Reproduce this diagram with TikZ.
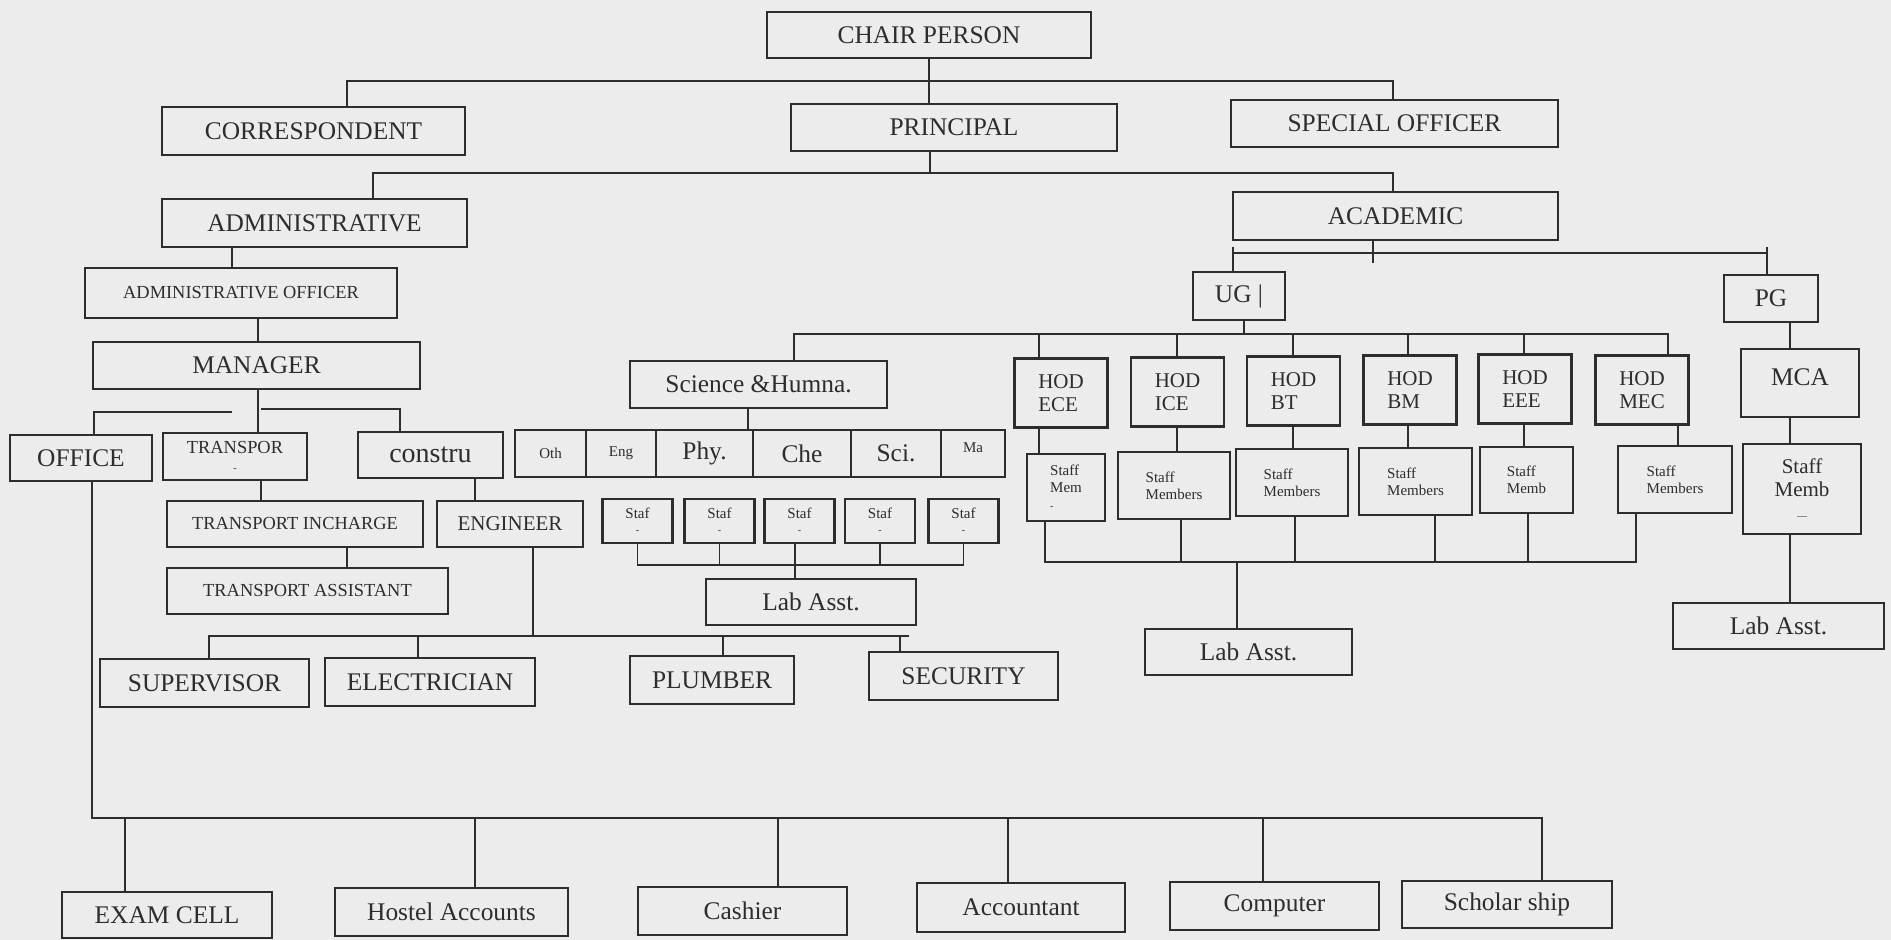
\documentclass[tikz,border=0pt]{standalone}
\usepackage{fontspec}
\setmainfont{Liberation Serif}
\usepackage{tikz}

\definecolor{paper}{RGB}{236,236,236}
\definecolor{ink}{RGB}{45,45,45}
\newcommand{\fbig}{\fontsize{12.7}{14}\selectfont}
\newcommand{\fmid}{\fontsize{10.5}{11.5}\selectfont}
\newcommand{\fsmall}{\fontsize{9.2}{10}\selectfont}
\newcommand{\ftiny}{\fontsize{7.5}{8.5}\selectfont}
\newcommand{\fdot}{\fontsize{5}{5}\selectfont}

\begin{document}
\begin{tikzpicture}[x=0.5pt,y=0.5pt,yscale=-1,
  box/.style={draw=ink, line width=1.1pt, text=ink, inner sep=1pt, align=center, font=\fbig},
  link/.style={draw=ink, line width=0.85pt}]

% Paper
\fill[paper] (0,0) rectangle (1891,940);

% Top levels
\node[box, minimum width=162pt, minimum height=23pt] (chair) at (929,35) {CHAIR PERSON};
\node[box, minimum width=151.5pt, minimum height=24pt] (corr) at (313.5,131) {CORRESPONDENT};
\node[box, minimum width=163pt, minimum height=23.5pt] (principal) at (954,127.5) {PRINCIPAL};
\node[box, minimum width=163.5pt, minimum height=23.5pt] (special) at (1394.5,123.5) {SPECIAL OFFICER};
\node[box, minimum width=152.5pt, minimum height=24pt] (admin) at (314.5,223) {ADMINISTRATIVE};
\node[box, minimum width=162.5pt, minimum height=24pt] (academic) at (1395.5,216) {ACADEMIC};

% Administrative side
\node[box, font=\fsmall, minimum width=156pt, minimum height=25pt] (adoff) at (241,293) {ADMINISTRATIVE OFFICER};
\node[box, minimum width=163.5pt, minimum height=23.5pt] (manager) at (256.5,365.5) {MANAGER};
\node[box, minimum width=71pt, minimum height=23pt] (office) at (81,458) {OFFICE};
\node[box, font=\fsmall, minimum width=72pt, minimum height=23.5pt] (transpor) at (235,456.5) {TRANSPOR\\[-1pt]{\fdot -}};
\node[box, font=\fontsize{14}{14}\selectfont, minimum width=72.5pt, minimum height=23pt] (constru) at (430.5,455) {\raisebox{-4pt}{constru}};
\node[box, font=\fsmall, minimum width=128pt, minimum height=23pt] (tinch) at (295,524) {TRANSPORT INCHARGE};
\node[box, font=\fsmall, minimum width=140.5pt, minimum height=23pt] (tasst) at (307.5,591) {TRANSPORT ASSISTANT};
\node[box, font=\fmid, minimum width=73pt, minimum height=23pt] (engineer) at (510,524) {ENGINEER};
\node[box, minimum width=104.5pt, minimum height=24pt] (supervisor) at (204.5,683) {SUPERVISOR};
\node[box, minimum width=105pt, minimum height=24pt] (electrician) at (430,682) {ELECTRICIAN};
\node[box, minimum width=82pt, minimum height=24pt] (plumber) at (712,680) {PLUMBER};
\node[box, minimum width=94.5pt, minimum height=24pt] (security) at (963.5,676) {SECURITY};

% Office row
\node[box, minimum width=105pt, minimum height=23pt] (examcell) at (167,915) {EXAM CELL};
\node[box, minimum width=116.5pt, minimum height=24pt] (hostel) at (451.5,912) {Hostel Accounts};
\node[box, minimum width=104.5pt, minimum height=24pt] (cashier) at (742.5,911) {Cashier};
\node[box, minimum width=104pt, minimum height=24.5pt] (accountant) at (1021,907.5) {Accountant};
\node[box, minimum width=104.5pt, minimum height=24pt] (computer) at (1274.5,906) {Computer};
\node[box, minimum width=105pt, minimum height=23.5pt] (scholar) at (1507,904.5) {Scholar ship};

% Academic side
\node[box, minimum width=46pt, minimum height=24pt] (ug) at (1239,296) {UG |};
\node[box, minimum width=47pt, minimum height=23.5pt] (pg) at (1771,298.5) {PG};
\node[box, minimum width=128.5pt, minimum height=23.5pt] (science) at (758.5,384.5) {Science \&Humna.};
\node[box, font=\ftiny, minimum width=35.5pt, minimum height=23.5pt] (oth) at (550.5,453.5) {Oth};
\node[box, font=\ftiny, minimum width=35pt, minimum height=23.5pt] (eng) at (621,453.5) {Eng};
\node[box, minimum width=48.5pt, minimum height=23.5pt] (phy) at (704.5,453.5) {Phy.};
\node[box, minimum width=49pt, minimum height=23.5pt] (che) at (802,453.5) {Che};
\node[box, minimum width=45pt, minimum height=23.5pt] (sci) at (896,453.5) {Sci.};
\node[box, font=\ftiny, minimum width=32pt, minimum height=23.5pt] (ma) at (973,453.5) {\raisebox{6pt}{Ma}};
\node[box, font=\ftiny, minimum width=35pt, minimum height=22pt] (staf1) at (637.5,521) {Staf\\[-1pt]{\fdot -}};
\node[box, font=\ftiny, minimum width=35pt, minimum height=22pt] (staf2) at (719.5,521) {Staf\\[-1pt]{\fdot -}};
\node[box, font=\ftiny, minimum width=35pt, minimum height=22pt] (staf3) at (799.5,521) {Staf\\[-1pt]{\fdot -}};
\node[box, font=\ftiny, minimum width=35pt, minimum height=22pt] (staf4) at (880,521) {Staf\\[-1pt]{\fdot -}};
\node[box, font=\ftiny, minimum width=35pt, minimum height=22pt] (staf5) at (963.5,521) {Staf\\[-1pt]{\fdot -}};
\node[box, minimum width=105pt, minimum height=23pt] (labsci) at (811,602) {Lab Asst.};

\node[box, font=\fmid, align=left, minimum width=46.5pt, minimum height=34.5pt] (hodece) at (1061,393) {HOD\\ECE};
\node[box, font=\fmid, align=left, minimum width=46.5pt, minimum height=34.5pt] (hodice) at (1177.5,392) {HOD\\ICE};
\node[box, font=\fmid, align=left, minimum width=46.5pt, minimum height=34.5pt] (hodbt) at (1293.5,391) {HOD\\BT};
\node[box, font=\fmid, align=left, minimum width=46.5pt, minimum height=34.5pt] (hodbm) at (1410,390) {HOD\\BM};
\node[box, font=\fmid, align=left, minimum width=46.5pt, minimum height=34.5pt] (hodeee) at (1525,389) {HOD\\EEE};
\node[box, font=\fmid, align=left, minimum width=46.5pt, minimum height=34.5pt] (hodmec) at (1642,390) {HOD\\MEC};
\node[box, minimum width=59pt, minimum height=34pt] (mca) at (1800,383) {\raisebox{6pt}{MCA}};

\node[box, font=\ftiny, align=left, minimum width=39pt, minimum height=33.5pt] (stece) at (1066,487.5) {Staff\\Mem\\{\fdot -}};
\node[box, font=\ftiny, align=left, minimum width=56pt, minimum height=33.5pt] (stice) at (1174,485.5) {Staff\\Members};
\node[box, font=\ftiny, align=left, minimum width=56pt, minimum height=33.5pt] (stbt) at (1292,482.5) {Staff\\Members};
\node[box, font=\ftiny, align=left, minimum width=56.5pt, minimum height=33.5pt] (stbm) at (1415.5,481.5) {Staff\\Members};
\node[box, font=\ftiny, align=left, minimum width=46.5pt, minimum height=33pt] (steee) at (1526.5,480) {Staff\\Memb};
\node[box, font=\ftiny, align=left, minimum width=57pt, minimum height=33.5pt] (stmec) at (1675,479.5) {Staff\\Members};
\node[box, font=\fmid, minimum width=59pt, minimum height=45pt] (stmca) at (1802,489) {Staff\\Memb\\{\fdot ---}};
\node[box, minimum width=103.5pt, minimum height=23pt] (labug) at (1248.5,652) {Lab Asst.};
\node[box, minimum width=105.5pt, minimum height=23pt] (labpg) at (1778.5,626) {Lab Asst.};

% Lines: top
\coordinate (b1l) at (347,81); \coordinate (b1r) at (1393,81);
\draw[link] (chair.south) -- (chair.south |- principal.north);
\draw[link] (b1l |- corr.north) -- (b1l) -- (b1r) -- (b1r |- special.north);
\coordinate (b2m) at (930,173); \coordinate (b2l) at (373,173); \coordinate (b2r) at (1393,173);
\draw[link] (b2m |- principal.south) -- (b2m);
\draw[link] (b2l |- admin.north) -- (b2l) -- (b2r) -- (b2r |- academic.north);

% Lines: administrative
\coordinate (a1) at (232,258); \coordinate (a2) at (258,330);
\draw[link] (a1 |- admin.south) -- (a1 |- adoff.north);
\draw[link] (a2 |- adoff.south) -- (a2 |- manager.north);
\draw[link] (a2 |- manager.south) -- (a2 |- transpor.north);
\coordinate (mgl) at (94,412); \coordinate (mgg) at (232,412);
\coordinate (mgm) at (261,409); \coordinate (mgr) at (400,409);
\draw[link] (mgg) -- (mgl) -- (mgl |- office.north);
\draw[link] (mgm) -- (mgr) -- (mgr |- constru.north);
\coordinate (t1) at (261,490); \coordinate (t2) at (347,557); \coordinate (c1) at (475,490);
\draw[link] (t1 |- transpor.south) -- (t1 |- tinch.north);
\draw[link] (t2 |- tinch.south) -- (t2 |- tasst.north);
\draw[link] (c1 |- constru.south) -- (c1 |- engineer.north);
\coordinate (wm) at (533,636); \coordinate (wl) at (209,636); \coordinate (wr) at (909,636);
\coordinate (we) at (418,636); \coordinate (wp) at (723,636); \coordinate (ws) at (900,636);
\draw[link] (wm |- engineer.south) -- (wm);
\draw[link] (wl |- supervisor.north) -- (wl) -- (wr);
\draw[link] (we) -- (we |- electrician.north);
\draw[link] (wp) -- (wp |- plumber.north);
\draw[link] (ws) -- (ws |- security.north);

% Lines: office
\coordinate (ofl) at (92,818); \coordinate (ofr) at (1542,818);
\coordinate (of1) at (125,818); \coordinate (of2) at (475,818); \coordinate (of3) at (778,818);
\coordinate (of4) at (1008,818); \coordinate (of5) at (1263,818);
\draw[link] (ofl |- office.south) -- (ofl) -- (ofr) -- (ofr |- scholar.north);
\draw[link] (of1) -- (of1 |- examcell.north);
\draw[link] (of2) -- (of2 |- hostel.north);
\draw[link] (of3) -- (of3 |- cashier.north);
\draw[link] (of4) -- (of4 |- accountant.north);
\draw[link] (of5) -- (of5 |- computer.north);

% Lines: academic
\coordinate (k1) at (1373,253); \coordinate (k2) at (1373,263);
\coordinate (kl) at (1233,253); \coordinate (kr) at (1767,253);
\coordinate (klt) at (1233,247); \coordinate (krt) at (1767,247);
\draw[link] (k1 |- academic.south) -- (k2);
\draw[link] (kl) -- (kr);
\draw[link] (klt) -- (klt |- ug.north);
\draw[link] (krt) -- (krt |- pg.north);

% Lines: UG
\coordinate (u0) at (1244,334); \coordinate (ul) at (794,334); \coordinate (ur) at (1668,334);
\draw[link] (u0 |- ug.south) -- (u0);
\draw[link] (ul |- science.north) -- (ul) -- (ur) -- (ur |- hodmec.north);
\coordinate (sc) at (748,420);
\draw[link] (sc |- science.south) -- (sc |- che.north);
\coordinate (sb) at (795,565);
\draw[link] (staf1.south) |- (sb) -| (staf5.south);
\draw[link] (staf2.south) -- (staf2.south |- sb);
\draw[link] (staf3.south -| sb) -- (sb);
\draw[link] (staf4.south) -- (staf4.south |- sb);
\draw[link] (sb) -- (sb |- labsci.north);

\coordinate (h1) at (1039,334); \coordinate (h2) at (1177,334); \coordinate (h3) at (1293,334);
\coordinate (h4) at (1408,334); \coordinate (h5) at (1524,334); \coordinate (h6) at (1678,334);
\draw[link] (h1) -- (h1 |- hodece.north);
\draw[link] (h2) -- (h2 |- hodice.north);
\draw[link] (h3) -- (h3 |- hodbt.north);
\draw[link] (h4) -- (h4 |- hodbm.north);
\draw[link] (h5) -- (h5 |- hodeee.north);
\draw[link] (h1 |- hodece.south) -- (h1 |- stece.north);
\draw[link] (h2 |- hodice.south) -- (h2 |- stice.north);
\draw[link] (h3 |- hodbt.south) -- (h3 |- stbt.north);
\draw[link] (h4 |- hodbm.south) -- (h4 |- stbm.north);
\draw[link] (h5 |- hodeee.south) -- (h5 |- steee.north);
\draw[link] (h6 |- hodmec.south) -- (h6 |- stmec.north);

\coordinate (hb) at (1237,562);
\coordinate (l1) at (1045,562); \coordinate (l2) at (1181,562); \coordinate (l3) at (1295,562);
\coordinate (l4) at (1435,562); \coordinate (l5) at (1528,562); \coordinate (l6) at (1636,562);
\draw[link] (l1 |- stece.south) -- (l1) -- (l6) -- (l6 |- stmec.south);
\draw[link] (l2 |- stice.south) -- (l2);
\draw[link] (l3 |- stbt.south) -- (l3);
\draw[link] (l4 |- stbm.south) -- (l4);
\draw[link] (l5 |- steee.south) -- (l5);
\draw[link] (hb) -- (hb |- labug.north);

% Lines: PG
\coordinate (p1) at (1790,330);
\draw[link] (p1 |- pg.south) -- (p1 |- mca.north);
\draw[link] (p1 |- mca.south) -- (p1 |- stmca.north);
\draw[link] (p1 |- stmca.south) -- (p1 |- labpg.north);

\end{tikzpicture}
\end{document}
